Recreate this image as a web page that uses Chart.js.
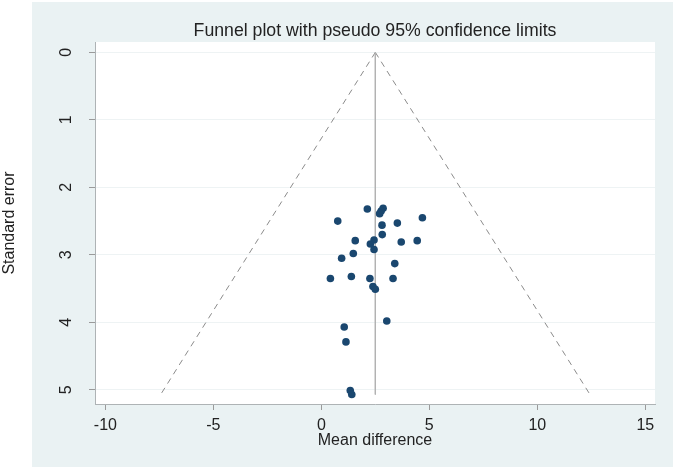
<!DOCTYPE html>
<html>
<head>
<meta charset="utf-8">
<script src="https://cdn.jsdelivr.net/npm/chart.js@4"></script>
<style>
  html, body { margin: 0; padding: 0; background: #fff; }
  canvas { display: block; }
</style>
</head>
<body>
<canvas id="funnel" width="675" height="471"></canvas>
<script>
// funnel plot — study effects vs standard error, pseudo 95% CI lines
const mdTicks = [-10, -5, 0, 5, 10, 15];
const seTicks = [0, 1, 2, 3, 4, 5];

const meanDiff = [2.13, 2.86, 2.77, 2.70, 0.76, 4.68, 2.81, 3.52, 2.82, 1.57,
  2.44, 2.27, 3.70, 4.44, 2.44, 1.48, 0.94, 3.40, 0.42, 1.39,
  2.25, 3.32, 2.39, 2.50, 3.03, 1.06, 1.14, 1.34, 1.41];
const stdErr = [2.32, 2.31, 2.35, 2.39, 2.50, 2.45, 2.56, 2.53, 2.70, 2.79,
  2.78, 2.84, 2.81, 2.79, 2.92, 2.98, 3.05, 3.13, 3.35, 3.32,
  3.35, 3.35, 3.47, 3.51, 3.98, 4.07, 4.29, 5.01, 5.07];

// pooled estimate line and pseudo CI limits (se from 0 to max)
const limitSE = [0, 5.07];
const pooledMD = [2.5, 2.5];
const lowerMD = [2.5, -7.44];
const upperMD = [2.5, 12.44];

const COLORS = {
  marker: '#1a476f',
  ci: '#8c8c8c',
  pooled: '#b2b2b2',
  grid: '#eef3f4',
  tick: '#9a9a9a',
  axis: '#aeb3b5',
  text: '#222222',
  outer: '#eaf2f3',
};
const FONT = "'Liberation Sans', Arial, Helvetica, sans-serif";

const pairs = (xs, ys) => xs.map((x, i) => ({ x, y: ys[i] }));

const stataBg = {
  id: 'stataBg',
  beforeDraw(chart) {
    const { ctx, chartArea: a } = chart;
    ctx.save();
    ctx.fillStyle = '#fff';
    ctx.fillRect(0, 0, chart.width, chart.height);
    ctx.fillStyle = COLORS.outer;
    ctx.fillRect(32, 2, 641, 465);
    ctx.fillStyle = '#fff';
    ctx.fillRect(a.left, a.top, a.right - a.left, a.bottom - a.top);
    ctx.restore();
  },
};

new Chart(document.getElementById('funnel'), {
  type: 'scatter',
  data: {
    datasets: [
      {
        label: 'Studies',
        data: pairs(meanDiff, stdErr),
        backgroundColor: COLORS.marker,
        borderColor: COLORS.marker,
        borderWidth: 0,
        pointRadius: 3.8,
      },
      {
        label: 'Pooled',
        data: pairs(pooledMD, limitSE),
        showLine: true,
        borderColor: COLORS.pooled,
        borderWidth: 1,
        pointRadius: 0,
      },
      {
        label: 'Lower limit',
        data: pairs(lowerMD, limitSE),
        showLine: true,
        borderColor: COLORS.ci,
        borderWidth: 1,
        borderDash: [6, 5],
        pointRadius: 0,
      },
      {
        label: 'Upper limit',
        data: pairs(upperMD, limitSE),
        showLine: true,
        borderColor: COLORS.ci,
        borderWidth: 1,
        borderDash: [6, 5],
        pointRadius: 0,
      },
    ],
  },
  options: {
    responsive: false,
    animation: false,
    layout: { padding: { left: 0, right: 20, top: 0, bottom: 21 } },
    plugins: {
      legend: { display: false },
      tooltip: { enabled: false },
      title: {
        display: true,
        text: 'Funnel plot with pseudo 95% confidence limits',
        fullSize: false,
        color: COLORS.text,
        font: { family: FONT, size: 17.7, weight: 'normal' },
        padding: { top: 20.4, bottom: 0.4 },
      },
    },
    scales: {
      x: {
        type: 'linear',
        min: -10.48,
        max: 15.45,
        afterBuildTicks: (s) => { s.ticks = mdTicks.map((v) => ({ value: v })); },
        afterFit: (s) => { s.height = 46; },
        grid: { drawOnChartArea: false, tickLength: 6, tickColor: COLORS.tick },
        border: { color: COLORS.axis, width: 1 },
        ticks: { color: COLORS.text, font: { family: FONT, size: 16 }, padding: 6, maxRotation: 0 },
        title: {
          display: true,
          text: 'Mean difference',
          color: COLORS.text,
          font: { family: FONT, size: 16 },
          padding: { top: 0, bottom: 0 },
        },
      },
      y: {
        type: 'linear',
        reverse: true,
        min: -0.153,
        max: 5.21,
        afterBuildTicks: (s) => { s.ticks = seTicks.map((v) => ({ value: v })); },
        afterFit: (s) => { s.width = 95; },
        grid: { color: COLORS.grid, lineWidth: 1, tickLength: 6, tickColor: COLORS.tick },
        border: { color: COLORS.axis, width: 1 },
        ticks: {
          color: COLORS.text,
          font: { family: FONT, size: 16 },
          padding: 18,
          minRotation: 90,
          maxRotation: 90,
          crossAlign: 'center',
        },
        title: {
          display: true,
          text: 'Standard error',
          color: COLORS.text,
          font: { family: FONT, size: 16 },
          padding: { top: 0, bottom: 0 },
        },
      },
    },
  },
  plugins: [stataBg],
});
</script>
</body>
</html>
